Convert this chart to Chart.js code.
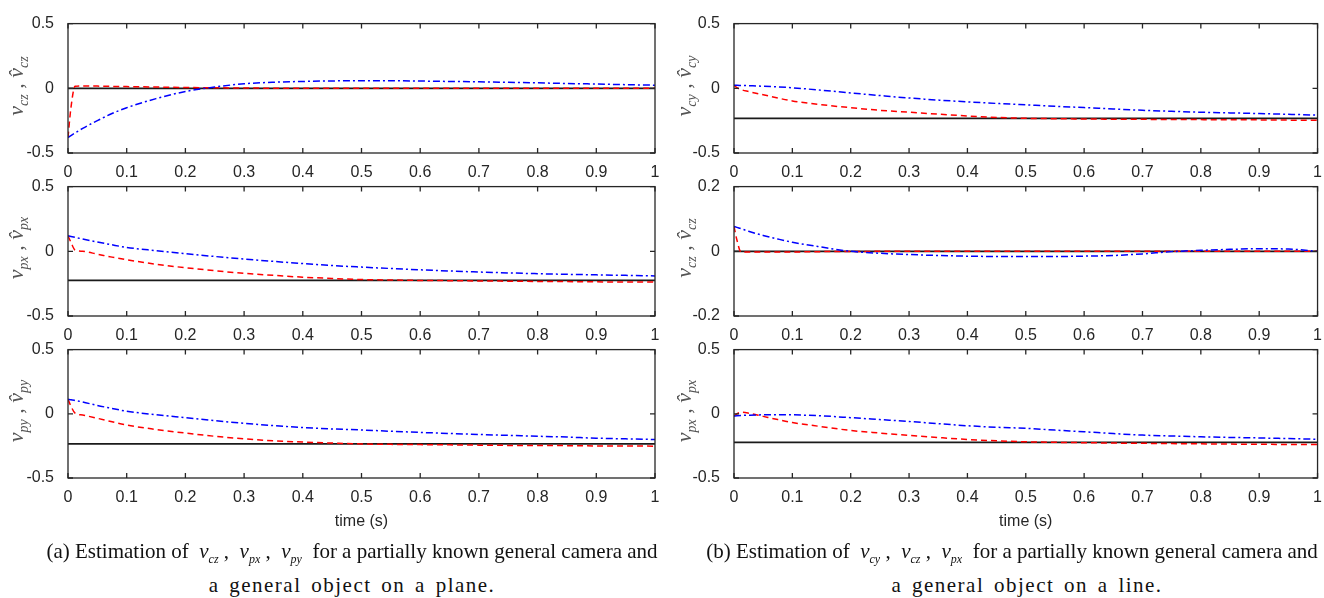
<!DOCTYPE html>
<html>
<head>
<meta charset="utf-8">
<script src="https://cdn.jsdelivr.net/npm/chart.js@4.4.0/dist/chart.umd.min.js"></script>
<style>
  body { margin: 0; background: #fff; }
  #fig { position: relative; width: 1324px; height: 598px; overflow: hidden; }
  #fig canvas { position: absolute; }
  .ylab { position: absolute; transform: translate(-50%, -50%) rotate(-90deg); white-space: nowrap;
          font: italic 22px/22px "Liberation Serif", serif; color: #555; }
  .ylab sub { font-size: 14px; }
  .cap { position: absolute; transform: translateX(-50%); white-space: nowrap;
         font: 21px/21px "Liberation Serif", serif; color: #111; }
  .cap sub { font-size: 12px; font-style: italic; }
  .cap.wide { letter-spacing: 1.5px; word-spacing: 3px; }
</style>
</head>
<body>
<div id="fig">
  <canvas id="a1" width="670" height="175" style="left:0;top:8px"></canvas>
  <canvas id="a2" width="670" height="175" style="left:0;top:171px"></canvas>
  <canvas id="a3" width="670" height="197" style="left:0;top:334px"></canvas>
  <canvas id="b1" width="659" height="175" style="left:665px;top:8px"></canvas>
  <canvas id="b2" width="659" height="175" style="left:665px;top:171px"></canvas>
  <canvas id="b3" width="659" height="197" style="left:665px;top:334px"></canvas>

  <div class="ylab" style="left:20px;top:86px"><i>v</i><sub>cz</sub> , <i>v&#770;</i><sub>cz</sub></div>
  <div class="ylab" style="left:20px;top:248px"><i>v</i><sub>px</sub> , <i>v&#770;</i><sub>px</sub></div>
  <div class="ylab" style="left:20px;top:411px"><i>v</i><sub>py</sub> , <i>v&#770;</i><sub>py</sub></div>
  <div class="ylab" style="left:688px;top:86px"><i>v</i><sub>cy</sub> , <i>v&#770;</i><sub>cy</sub></div>
  <div class="ylab" style="left:688px;top:248px"><i>v</i><sub>cz</sub> , <i>v&#770;</i><sub>cz</sub></div>
  <div class="ylab" style="left:688px;top:411px"><i>v</i><sub>px</sub> , <i>v&#770;</i><sub>px</sub></div>

  <div class="cap" style="left:352px;top:541px">(a) Estimation of&nbsp; <i>v</i><sub>cz</sub> ,&nbsp; <i>v</i><sub>px</sub> ,&nbsp; <i>v</i><sub>py</sub>&nbsp; for a partially known general camera and</div>
  <div class="cap wide" style="left:352px;top:575px">a general object on a plane.</div>
  <div class="cap" style="left:1012px;top:541px">(b) Estimation of&nbsp; <i>v</i><sub>cy</sub> ,&nbsp; <i>v</i><sub>cz</sub> ,&nbsp; <i>v</i><sub>px</sub>&nbsp; for a partially known general camera and</div>
  <div class="cap wide" style="left:1027px;top:575px">a general object on a line.</div>
</div>
<script>
// time samples (s)
const time = [0, 0.005, 0.012, 0.025, 0.05, 0.075, 0.1, 0.15, 0.2, 0.25, 0.3, 0.35, 0.4, 0.45, 0.5,
              0.55, 0.6, 0.65, 0.7, 0.75, 0.8, 0.85, 0.9, 0.95, 1.0];

// (a) plane: v_cz
const a1Blue = [-0.38, -0.365, -0.345, -0.31, -0.25, -0.195, -0.15, -0.08, -0.025, 0.01, 0.035, 0.047, 0.053, 0.057, 0.058,
                0.058, 0.056, 0.053, 0.05, 0.046, 0.042, 0.037, 0.033, 0.028, 0.024];
const a1Red  = [-0.38, -0.15, 0.015, 0.018, 0.017, 0.015, 0.013, 0.01, 0.006, 0.004, 0.002, 0.001, 0, 0, 0,
                0, 0, 0, 0, 0, 0, 0, 0, 0, 0];
const a1True = 0;

// (a) plane: v_px
const a2Blue = [0.12, 0.115, 0.108, 0.095, 0.072, 0.05, 0.03, 0.005, -0.018, -0.04, -0.06, -0.078, -0.095, -0.11, -0.122,
                -0.133, -0.143, -0.152, -0.16, -0.167, -0.173, -0.178, -0.182, -0.186, -0.19];
const a2Red  = [0.12, 0.07, 0.01, 0.0, -0.022, -0.045, -0.065, -0.1, -0.127, -0.15, -0.17, -0.186, -0.2, -0.21, -0.218,
                -0.222, -0.225, -0.227, -0.229, -0.231, -0.233, -0.234, -0.236, -0.237, -0.238];
const a2True = -0.225;

// (a) plane: v_py
const a3Blue = [0.113, 0.11, 0.104, 0.092, 0.065, 0.042, 0.02, -0.007, -0.03, -0.053, -0.074, -0.092, -0.107, -0.118, -0.126,
                -0.136, -0.145, -0.153, -0.161, -0.168, -0.175, -0.181, -0.19, -0.195, -0.2];
const a3Red  = [0.113, 0.06, 0.005, -0.01, -0.035, -0.062, -0.088, -0.122, -0.15, -0.175, -0.195, -0.21, -0.22, -0.228, -0.235,
                -0.238, -0.24, -0.242, -0.244, -0.246, -0.247, -0.248, -0.25, -0.251, -0.252];
const a3True = -0.235;

// (b) line: v_cy
const b1Blue = [0.023, 0.023, 0.022, 0.02, 0.016, 0.011, 0.004, -0.015, -0.036, -0.056, -0.075, -0.091, -0.105, -0.117, -0.128,
                -0.139, -0.149, -0.16, -0.17, -0.178, -0.185, -0.19, -0.195, -0.201, -0.207];
const b1Red  = [0.023, 0.005, -0.01, -0.025, -0.05, -0.075, -0.098, -0.127, -0.15, -0.17, -0.185, -0.2, -0.214, -0.225, -0.232,
                -0.235, -0.237, -0.239, -0.24, -0.241, -0.242, -0.243, -0.244, -0.246, -0.247];
const b1True = -0.232;

// (b) line: v_cz
const b2Blue = [0.077, 0.074, 0.07, 0.062, 0.049, 0.038, 0.028, 0.013, 0.0, -0.006, -0.01, -0.013, -0.015, -0.016, -0.016,
                -0.016, -0.015, -0.013, -0.008, -0.001, 0.003, 0.006, 0.008, 0.007, 0.0];
const b2Red  = [0.077, 0.035, -0.002, -0.002, -0.002, -0.002, -0.002, -0.001, -0.001, 0, 0, 0, 0, 0, 0,
                0, 0, 0, 0, 0, 0, 0, 0, 0, 0];
const b2True = 0;

// (b) line: v_px
const b3Blue = [-0.017, -0.015, -0.013, -0.011, -0.008, -0.007, -0.008, -0.016, -0.03, -0.045, -0.06, -0.077, -0.093, -0.105, -0.113,
                -0.127, -0.14, -0.154, -0.166, -0.173, -0.179, -0.184, -0.188, -0.193, -0.198];
const b3Red  = [-0.017, 0.0, 0.012, 0.005, -0.02, -0.045, -0.068, -0.1, -0.13, -0.15, -0.168, -0.185, -0.2, -0.21, -0.218,
                -0.222, -0.225, -0.228, -0.23, -0.232, -0.234, -0.236, -0.237, -0.239, -0.24];
const b3True = -0.222;

// tick labels
const xTickValues = [0, 0.1, 0.2, 0.3, 0.4, 0.5, 0.6, 0.7, 0.8, 0.9, 1];
const yTicksHalf = [-0.5, 0, 0.5];
const yTicksFifth = [-0.2, 0, 0.2];

const axisColor = '#262626';
const tickFont = { family: '"Liberation Sans", Arial, sans-serif', size: 16 };

// MATLAB-like box with inward tick marks
const matlabBox = {
  id: 'matlabBox',
  afterDatasetsDraw(chart) {
    const { ctx, chartArea: a, scales } = chart;
    ctx.save();
    ctx.strokeStyle = axisColor;
    ctx.lineWidth = 1.3;
    ctx.strokeRect(a.left, a.top, a.right - a.left, a.bottom - a.top);
    ctx.beginPath();
    scales.x.ticks.forEach(t => {
      const px = scales.x.getPixelForValue(t.value);
      ctx.moveTo(px, a.bottom); ctx.lineTo(px, a.bottom - 5);
      ctx.moveTo(px, a.top); ctx.lineTo(px, a.top + 5);
    });
    scales.y.ticks.forEach(t => {
      const py = scales.y.getPixelForValue(t.value);
      ctx.moveTo(a.left, py); ctx.lineTo(a.left + 5, py);
      ctx.moveTo(a.right, py); ctx.lineTo(a.right - 5, py);
    });
    ctx.stroke();
    ctx.restore();
  }
};

function toPoints(arr) {
  return time.map((t, i) => ({ x: t, y: arr[i] }));
}

function fmt(v) {
  return String(Math.round(v * 10) / 10);
}

function makePanel(id, blue, red, truth, yTicks, padRight, bottomRow) {
  new Chart(document.getElementById(id), {
    type: 'line',
    data: {
      datasets: [{
        data: toPoints(blue),
        borderColor: '#0000ff',
        borderWidth: 1.5,
        borderDash: [7, 3, 2, 3],
        pointRadius: 0,
        cubicInterpolationMode: 'monotone'
      }, {
        data: toPoints(red),
        borderColor: '#ff0000',
        borderWidth: 1.5,
        borderDash: [6, 4],
        pointRadius: 0,
        cubicInterpolationMode: 'monotone'
      }, {
        data: [{ x: 0, y: truth }, { x: 1, y: truth }],
        borderColor: '#1a1a1a',
        borderWidth: 1.7,
        pointRadius: 0
      }]
    },
    options: {
      responsive: false,
      animation: false,
      events: [],
      layout: { padding: { top: 10, right: padRight, left: 0, bottom: 0 } },
      plugins: { legend: { display: false }, tooltip: { enabled: false } },
      scales: {
        x: {
          type: 'linear', min: 0, max: 1,
          afterBuildTicks: s => { s.ticks = xTickValues.map(v => ({ value: v })); },
          afterFit: s => { s.height = bottomRow ? 53 : 30; },
          grid: { display: false },
          border: { display: false },
          ticks: { font: tickFont, color: axisColor, padding: 2, maxRotation: 0, autoSkip: false, callback: fmt },
          title: {
            display: bottomRow, text: 'time (s)', color: axisColor,
            font: tickFont, padding: 0
          }
        },
        y: {
          type: 'linear', min: yTicks[0], max: yTicks[yTicks.length - 1],
          afterBuildTicks: s => { s.ticks = yTicks.map(v => ({ value: v })); },
          afterFit: s => { s.width = id[0] === 'a' ? 68 : 69; },
          grid: { display: false },
          border: { display: false },
          ticks: { font: tickFont, color: axisColor, padding: 6, callback: fmt }
        }
      }
    },
    plugins: [matlabBox]
  });
}

makePanel('a1', a1Blue, a1Red, a1True, yTicksHalf, 15, false);
makePanel('a2', a2Blue, a2Red, a2True, yTicksHalf, 15, false);
makePanel('a3', a3Blue, a3Red, a3True, yTicksHalf, 15, true);
makePanel('b1', b1Blue, b1Red, b1True, yTicksHalf, 4, false);
makePanel('b2', b2Blue, b2Red, b2True, yTicksFifth, 4, false);
makePanel('b3', b3Blue, b3Red, b3True, yTicksHalf, 4, true);
</script>
</body>
</html>
